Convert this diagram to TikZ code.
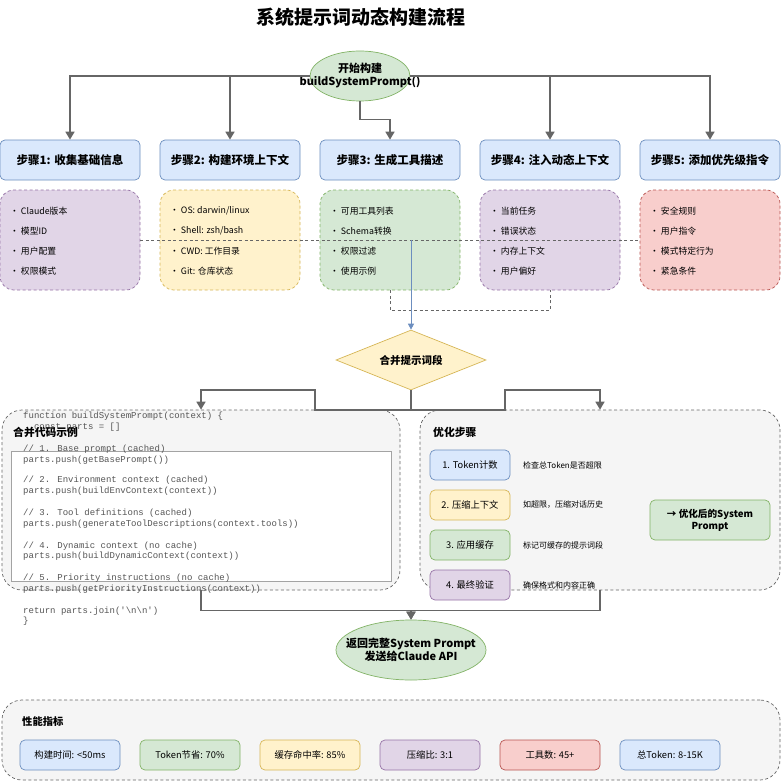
\documentclass[tikz,border=0pt]{standalone}
\usepackage{fontspec}
\setmainfont{Noto Sans CJK SC}
\newfontfamily\codefont{Liberation Mono}
\usetikzlibrary{shapes.geometric,arrows.meta}
\definecolor{lineC}{HTML}{666666}
\definecolor{blueF}{HTML}{DAE8FC}\definecolor{blueS}{HTML}{6C8EBF}
\definecolor{greenF}{HTML}{D5E8D4}\definecolor{greenS}{HTML}{82B366}
\definecolor{yellowF}{HTML}{FFF2CC}\definecolor{yellowS}{HTML}{D6B656}
\definecolor{purpleF}{HTML}{E1D5E7}\definecolor{purpleS}{HTML}{9673A6}
\definecolor{redF}{HTML}{F8CECC}\definecolor{redS}{HTML}{B85450}
\definecolor{grayF}{HTML}{F5F5F5}
\definecolor{codeC}{HTML}{555555}
\begin{document}
\begin{tikzpicture}[x=1pt,y=-1pt,
  conn/.style={draw=lineC, line width=1.6pt, -{Triangle[length=8pt,width=9pt]}},
  dconn/.style={draw=lineC, line width=0.6pt, dash pattern=on 3pt off 2.5pt},
  stepbox/.style={draw=blueS, fill=blueF, rounded corners=5pt, minimum width=140pt, minimum height=40pt, line width=0.7pt, font=\bfseries\fontsize{11.5}{13}\selectfont},
  detbox/.style={dash pattern=on 3pt off 2.5pt, rounded corners=14pt, minimum width=140pt, minimum height=100pt, line width=0.7pt},
  item/.style={anchor=west, inner sep=0pt, font=\fontsize{8.8}{10}\selectfont},
  container/.style={draw=lineC, fill=grayF, dash pattern=on 3pt off 2.5pt, rounded corners=20pt, line width=0.7pt},
  code/.style={anchor=west, inner sep=0pt, text height=6.5pt, text depth=2pt, text=codeC, font=\codefont\fontsize{9}{10}\selectfont},
  sectitle/.style={anchor=west, inner sep=0pt, font=\bfseries\fontsize{10.8}{12}\selectfont},
  optbox/.style={rounded corners=5pt, minimum width=80pt, minimum height=30pt, line width=0.7pt, font=\fontsize{9.3}{11}\selectfont},
  desc/.style={anchor=west, inner sep=0pt, font=\fontsize{8}{10}\selectfont},
  metric/.style={rounded corners=5pt, minimum width=100pt, minimum height=30pt, line width=0.7pt, font=\fontsize{9.3}{11}\selectfont},
  ellbox/.style={ellipse, draw=greenS, fill=greenF, line width=0.7pt, inner sep=0pt},
  elltext/.style={align=center, inner sep=0pt, font=\bfseries\fontsize{11}{13}\selectfont}
]
\useasboundingbox (0,0) rectangle (781,781);
\fill[white] (0,0) rectangle (781,781);

% title
\node[font=\bfseries\fontsize{19}{22}\selectfont] (title) at (361,17) {系统提示词动态构建流程};

% start
\node[ellbox, minimum width=100pt, minimum height=50pt] (start) at (360,76) {};
\node[elltext] (startlbl) at (360,76) {开始构建\\buildSystemPrompt()};

% step boxes
\node[stepbox] (s1) at (70,160) {步骤1: 收集基础信息};
\node[stepbox] (s2) at (230,160) {步骤2: 构建环境上下文};
\node[stepbox] (s3) at (390,160) {步骤3: 生成工具描述};
\node[stepbox] (s4) at (550,160) {步骤4: 注入动态上下文};
\node[stepbox] (s5) at (710,160) {步骤5: 添加优先级指令};

\draw[conn] (start.west) -| (s1.north);
\draw[conn] (start.west) -| (s2.north);
\draw[conn] (start.south) -- ++(0,18) -| (s3.north);
\draw[conn] (start.east) -| (s4.north);
\draw[conn] (start.east) -| (s5.north);

% detail boxes
\node[detbox, draw=purpleS, fill=purpleF] (d1) at (70,240) {};
\node[detbox, draw=yellowS, fill=yellowF] (d2) at (230,240) {};
\node[detbox, draw=greenS, fill=greenF] (d3) at (390,240) {};
\node[detbox, draw=purpleS, fill=purpleF] (d4) at (550,240) {};
\node[detbox, draw=redS, fill=redF] (d5) at (710,240) {};

\foreach \t [count=\i] in {Claude版本,模型ID,用户配置,权限模式}
  \node[item] (d1-\i) at (10,191+20*\i) {•\ \t};
\foreach \t [count=\i] in {OS: darwin/linux,Shell: zsh/bash,CWD: 工作目录,Git: 仓库状态}
  \node[item] (d2-\i) at (170,191+20*\i) {•\ \t};
\foreach \t [count=\i] in {可用工具列表,Schema转换,权限过滤,使用示例}
  \node[item] (d3-\i) at (330,191+20*\i) {•\ \t};
\foreach \t [count=\i] in {当前任务,错误状态,内存上下文,用户偏好}
  \node[item] (d4-\i) at (490,191+20*\i) {•\ \t};
\foreach \t [count=\i] in {安全规则,用户指令,模式特定行为,紧急条件}
  \node[item] (d5-\i) at (650,191+20*\i) {•\ \t};

% merge diamond
\node[diamond, aspect=2.5, draw=yellowS, fill=yellowF, line width=0.7pt, minimum width=150pt, minimum height=60pt, inner sep=1pt, font=\bfseries\fontsize{10.5}{12}\selectfont] (merge) at (411,360) {合并提示词段};

\draw[dconn] (d1.east) -- (d5.west);
\draw[dconn] (d3.south) -- ++(0,20) -| (d4.south);
\coordinate (bj) at (411,240);
\draw[draw=blueS, line width=0.8pt, -{Triangle[length=6pt,width=6pt]}] (bj) -- (merge.north);

% containers
\node[container, minimum width=398pt, minimum height=180pt] (codebox) at (201,500) {};
\node[container, minimum width=360pt, minimum height=180pt] (optbox) at (600,500) {};

\draw[conn] (merge.south) |- (315,410) -- (315,390) -| (codebox.north);
\draw[conn] (merge.south) |- (505,410) -- (505,390) -| (optbox.north);

% code panel
\node[draw=lineC!60, fill=white, line width=0.6pt, minimum width=380pt, minimum height=130pt] (codepanel) at (201,516) {};
\node[code] (c1) at (23,416) {function buildSystemPrompt(context) \{};
\node[code] (c2) at (23,427) {\phantom{xx}const parts = []};
\node[code] (c3) at (23,449) {// 1. Base prompt (cached)};
\node[code] (c4) at (23,460) {parts.push(getBasePrompt())};
\node[code] (c5) at (23,480) {// 2. Environment context (cached)};
\node[code] (c6) at (23,491) {parts.push(buildEnvContext(context))};
\node[code] (c7) at (23,513) {// 3. Tool definitions (cached)};
\node[code] (c8) at (23,524) {parts.push(generateToolDescriptions(context.tools))};
\node[code] (c9) at (23,546) {// 4. Dynamic context (no cache)};
\node[code] (c10) at (23,556) {parts.push(buildDynamicContext(context))};
\node[code] (c11) at (23,578) {// 5. Priority instructions (no cache)};
\node[code] (c12) at (23,589) {parts.push(getPriorityInstructions(context))};
\node[code] (c13) at (23,611) {return parts.join(\textquotesingle\textbackslash n\textbackslash n\textquotesingle)};
\node[code] (c14) at (23,621) {\}};
\node[sectitle] (codetitle) at (13,432) {合并代码示例};

% optimization
\node[sectitle] (opttitle) at (433,432) {优化步骤};
\node[optbox, draw=blueS, fill=blueF] (o1) at (470,465) {1. Token计数};
\node[optbox, draw=yellowS, fill=yellowF] (o2) at (470,505) {2. 压缩上下文};
\node[optbox, draw=greenS, fill=greenF] (o3) at (470,545) {3. 应用缓存};
\node[optbox, draw=purpleS, fill=purpleF] (o4) at (470,585) {4. 最终验证};
\node[desc] (e1) at (523,465) {检查总Token是否超限};
\node[desc] (e2) at (523,505) {如超限，压缩对话历史};
\node[desc] (e3) at (523,545) {标记可缓存的提示词段};
\node[desc] (e4) at (523,585) {确保格式和内容正确};
\node[draw=greenS, fill=greenF, rounded corners=5pt, minimum width=120pt, minimum height=40pt, line width=0.7pt, align=center, font=\bfseries\fontsize{9.6}{12}\selectfont] (res) at (710,520) {→ 优化后的System\\Prompt};

% return ellipse
\node[ellbox, minimum width=150pt, minimum height=60pt] (ret) at (411,650) {};
\node[elltext] (retlbl) at (411,650) {返回完整System Prompt\\发送给Claude API};
\draw[conn] (codebox.south) -- ++(0,20) -| (ret.north);
\draw[conn] (optbox.south) -- ++(0,20) -| (ret.north);

% metrics
\node[container, minimum width=778pt, minimum height=80pt] (metrics) at (391,740) {};
\node[sectitle, font=\bfseries\fontsize{10.3}{12}\selectfont] (mtitle) at (22,722) {性能指标};
\node[metric, draw=blueS, fill=blueF] (m1) at (70,755) {构建时间: <50ms};
\node[metric, draw=greenS, fill=greenF] (m2) at (190,755) {Token节省: 70\%};
\node[metric, draw=yellowS, fill=yellowF] (m3) at (310,755) {缓存命中率: 85\%};
\node[metric, draw=purpleS, fill=purpleF] (m4) at (430,755) {压缩比: 3:1};
\node[metric, draw=redS, fill=redF] (m5) at (550,755) {工具数: 45+};
\node[metric, draw=blueS, fill=blueF] (m6) at (670,755) {总Token: 8-15K};
\end{tikzpicture}
\end{document}
